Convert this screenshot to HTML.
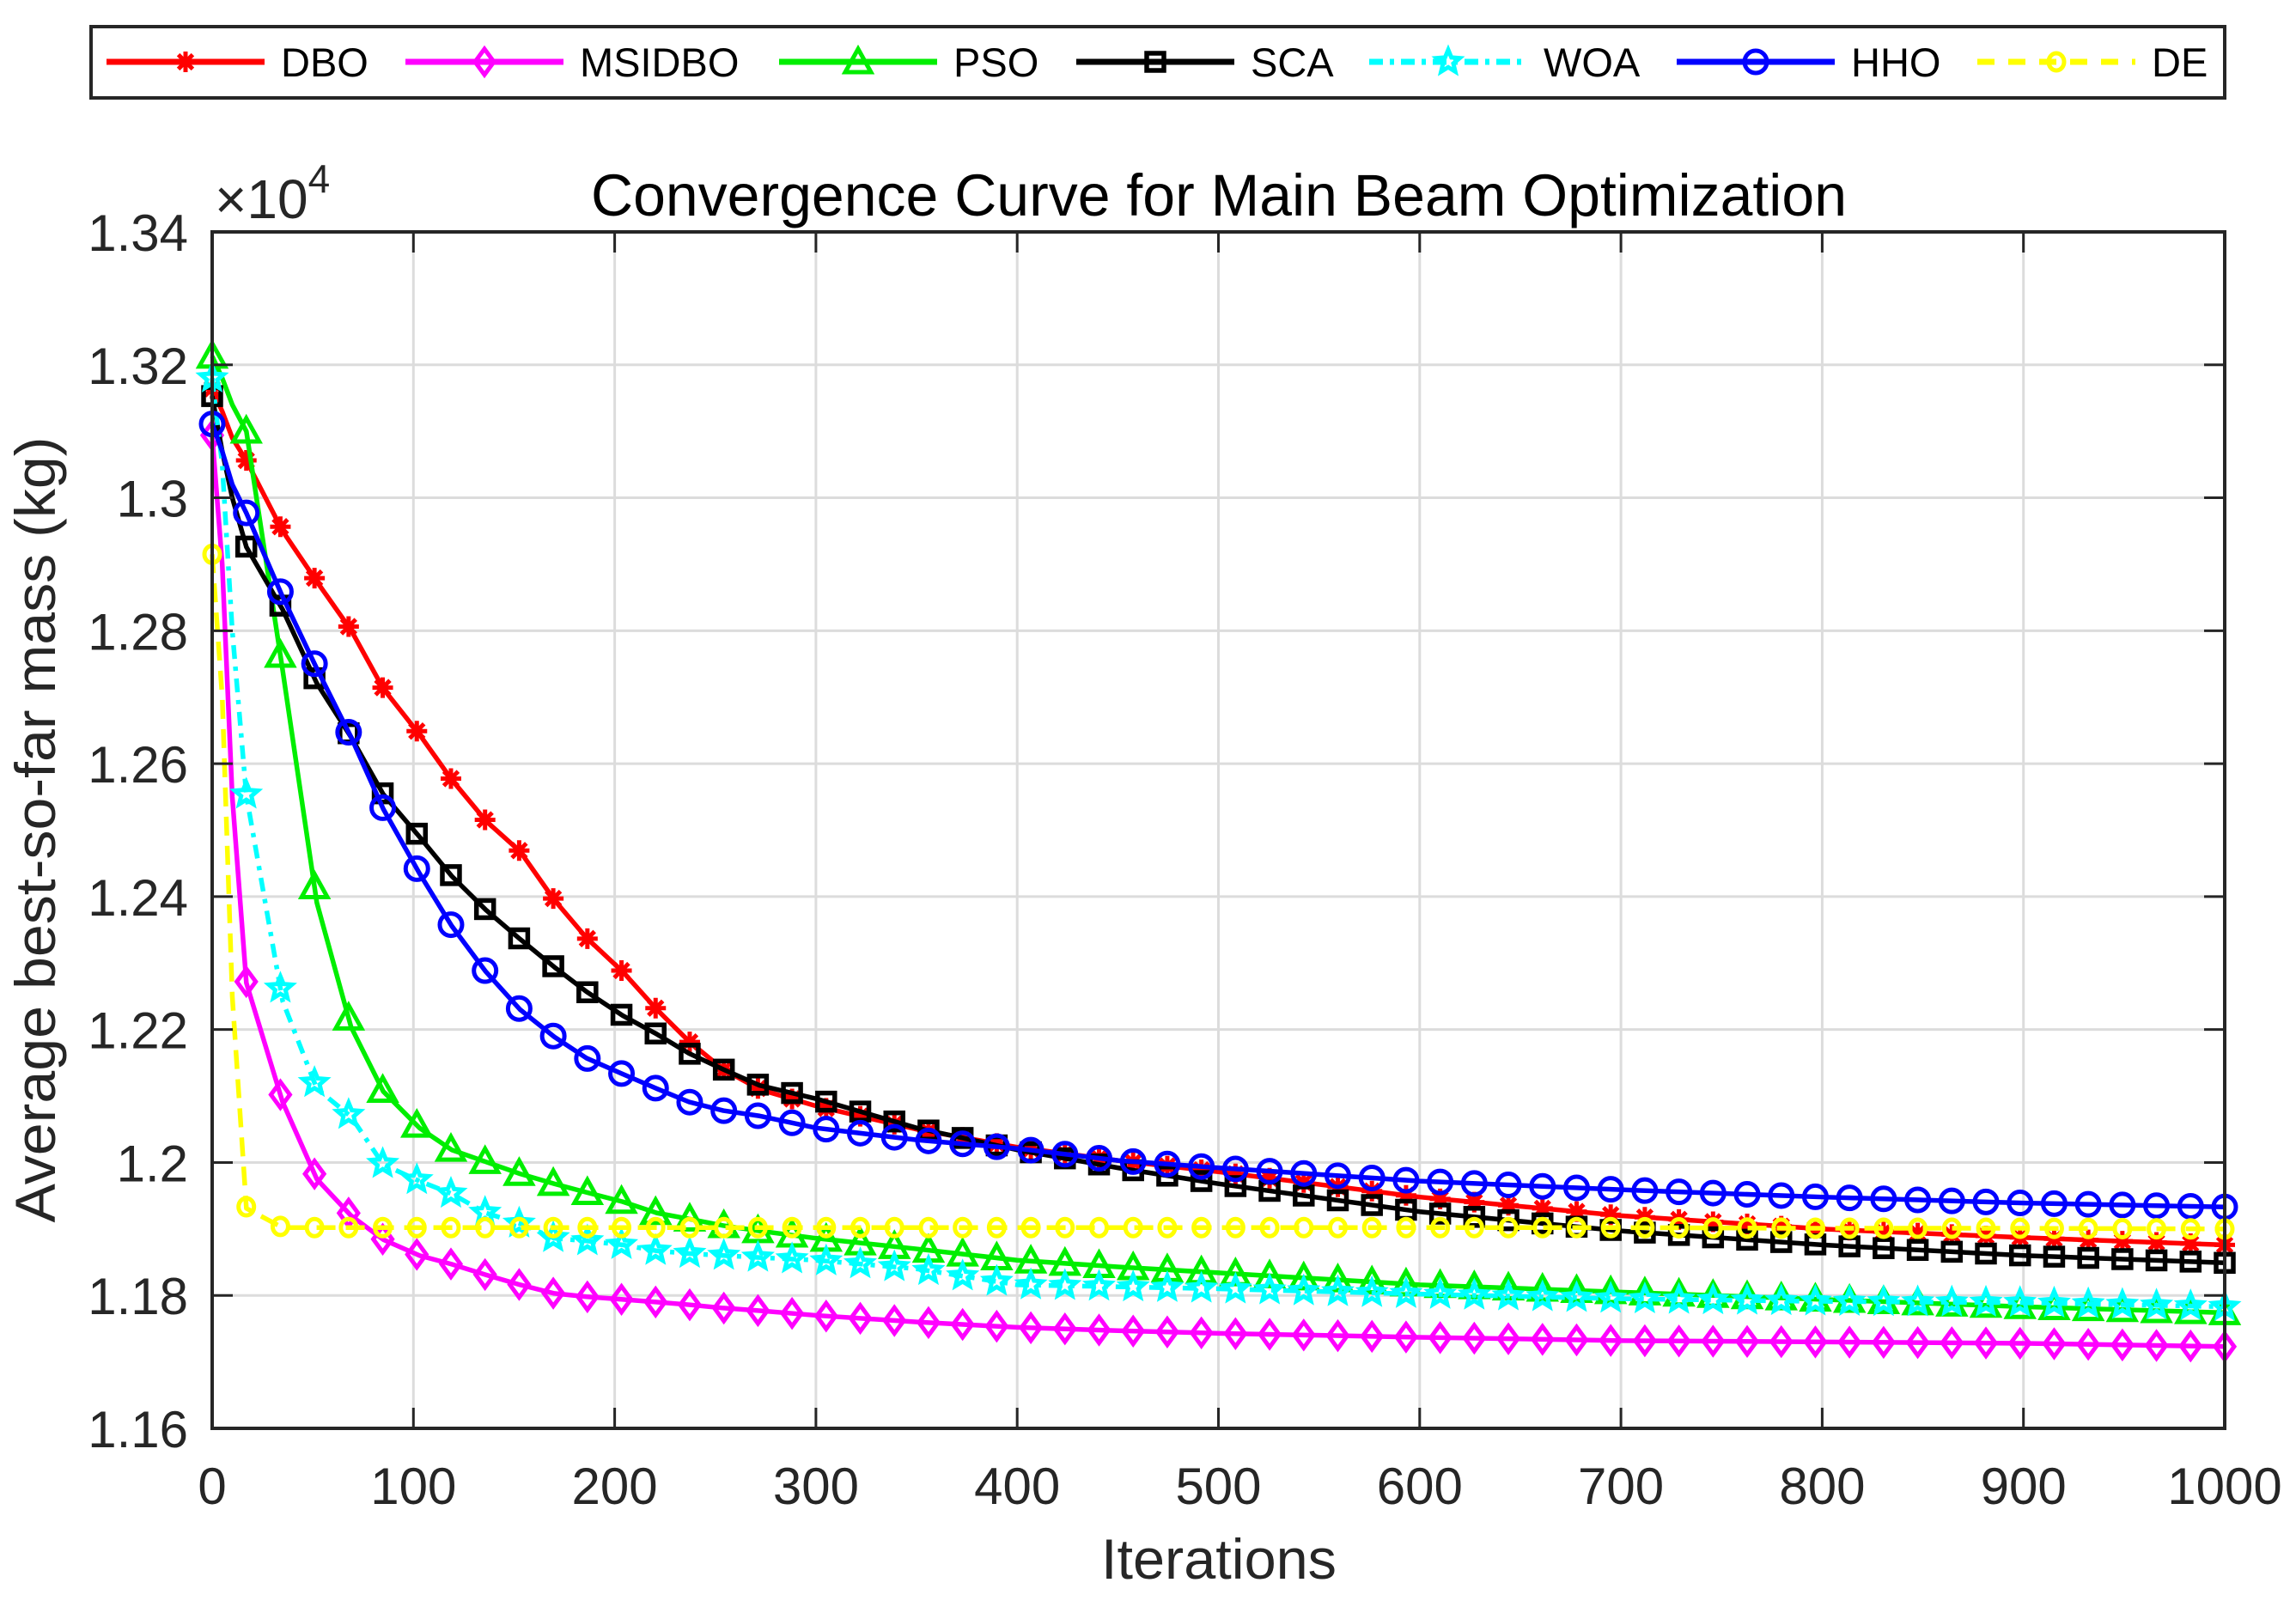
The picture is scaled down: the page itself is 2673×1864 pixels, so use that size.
<!DOCTYPE html>
<html><head><meta charset="utf-8"><style>
html,body{margin:0;padding:0;background:#fff;}
svg{display:block;font-family:"Liberation Sans",Arial,sans-serif;}
</style></head><body>
<svg id="chart" width="2673" height="1864" viewBox="0 0 2673 1864" xmlns="http://www.w3.org/2000/svg">
<rect width="2673" height="1864" fill="#fff"/>
<g id="grid"></g>
<g id="series"></g>
<g id="axes"></g>
<text x="1419" y="251" font-size="69" text-anchor="middle" fill="#000" textLength="1462" lengthAdjust="spacingAndGlyphs">Convergence Curve for Main Beam Optimization</text>
<text x="250" y="254" font-size="64" fill="#262626">×10<tspan font-size="46" dy="-30">4</tspan></text>
<text x="1419" y="1838" font-size="66" text-anchor="middle" fill="#262626" textLength="274" lengthAdjust="spacingAndGlyphs">Iterations</text>
<text transform="translate(64,966) rotate(-90)" font-size="66" text-anchor="middle" fill="#262626" textLength="915" lengthAdjust="spacingAndGlyphs">Average best-so-far mass (kg)</text>
<g id="legend"></g>
</svg>
<script>
const iters = [0,5,10,17,35,52,69,85,103,119,136,153,170,186,204,221,237,254,272,300,350,400,450,500,600,700,800,900,1000];
const dbo = [1.3164,1.313,1.309,1.3056,1.295,1.2874,1.2801,1.2713,1.2644,1.2576,1.2514,1.2468,1.2395,1.2338,1.2287,1.223,1.2182,1.214,1.211,1.2085,1.205,1.2023,1.2003,1.1986,1.1948,1.192,1.190,1.1887,1.1876];
const msidbo = [1.3094,1.29,1.255,1.227,1.2091,1.1975,1.192,1.1884,1.186,1.1847,1.1831,1.1816,1.1803,1.1798,1.1794,1.179,1.1786,1.1781,1.1777,1.177,1.176,1.1752,1.1747,1.1743,1.1737,1.1732,1.173,1.1728,1.1723];
const pso = [1.3213,1.318,1.314,1.31,1.2741,1.2391,1.2204,1.2107,1.2052,1.2019,1.2001,1.1983,1.1968,1.1955,1.1941,1.1924,1.1915,1.1905,1.1897,1.1886,1.187,1.1853,1.1843,1.1834,1.1816,1.1805,1.1794,1.1783,1.1774];
const sca = [1.3153,1.307,1.300,1.2926,1.2832,1.2721,1.264,1.2554,1.249,1.2431,1.238,1.2336,1.2294,1.2257,1.2221,1.2193,1.2164,1.214,1.2116,1.2096,1.2052,1.2019,1.1992,1.1968,1.1926,1.1897,1.1876,1.186,1.1849];
const woa = [1.318,1.305,1.28,1.2552,1.2243,1.2111,1.2069,1.1997,1.1972,1.1953,1.1924,1.1908,1.1886,1.1882,1.1876,1.1867,1.1863,1.186,1.1857,1.1853,1.184,1.1816,1.1813,1.181,1.1802,1.1795,1.1791,1.1789,1.1783];
const hho = [1.3111,1.307,1.302,1.2977,1.2851,1.2743,1.264,1.2532,1.2435,1.2356,1.2287,1.223,1.2189,1.2157,1.2133,1.2111,1.2091,1.2078,1.207,1.2052,1.2034,1.2021,1.2003,1.1992,1.1972,1.1959,1.1948,1.1939,1.1933];
const de = [1.2915,1.27,1.225,1.1931,1.1902,1.1902,1.1902,1.1902,1.1902,1.1902,1.1902,1.1902,1.1902,1.1902,1.1902,1.1902,1.1902,1.1902,1.1902,1.1902,1.1902,1.1902,1.1902,1.1902,1.1902,1.1902,1.1901,1.1901,1.1900];
const xTicks = [0,100,200,300,400,500,600,700,800,900,1000];
const yTicks = [1.16,1.18,1.2,1.22,1.24,1.26,1.28,1.3,1.32,1.34];
const yTickLabels = ["1.16","1.18","1.2","1.22","1.24","1.26","1.28","1.3","1.32","1.34"];
const seriesNames = ["DBO","MSIDBO","PSO","SCA","WOA","HHO","DE"];

const L=247,R=2590,T=270,B=1663;
const xMin=0,xMax=1000,yMin=1.16,yMax=1.34;
const sx=v=>L+(v-xMin)/(xMax-xMin)*(R-L);
const sy=v=>B-(v-yMin)/(yMax-yMin)*(B-T);
const NS='http://www.w3.org/2000/svg';
function mk(tag,attrs,parent){const e=document.createElementNS(NS,tag);for(const k in attrs)e.setAttribute(k,attrs[k]);parent.appendChild(e);return e;}

const grid=document.getElementById('grid'),axes=document.getElementById('axes'),ser=document.getElementById('series'),leg=document.getElementById('legend');
xTicks.forEach(t=>{
  const x=sx(t);
  if(t>xMin&&t<xMax){const g=mk('line',{x1:x,x2:x,y1:T,y2:B,stroke:'#dcdcdc','stroke-width':3},grid);
  
  }
  const tk=mk('path',{d:`M${x},${B}v-24M${x},${T}v24`,stroke:'#262626','stroke-width':3},axes);
  
  
  const lb=mk('text',{x:x,y:1751,'font-size':60,'text-anchor':'middle',fill:'#262626'},axes);lb.textContent=t;
  
  
});
yTicks.forEach((t,i)=>{
  const y=sy(t);
  if(i>0&&i<yTicks.length-1){const g=mk('line',{x1:L,x2:R,y1:y,y2:y,stroke:'#dcdcdc','stroke-width':3},grid);
  
  }
  const tk=mk('path',{d:`M${L},${y}h24M${R},${y}h-24`,stroke:'#262626','stroke-width':3},axes);
  
  
  const lb=mk('text',{x:219,y:y+22,'font-size':60,'text-anchor':'end',fill:'#262626'},axes);lb.textContent=yTickLabels[i];
  
  
});
const frame=mk('rect',{x:L,y:T,width:R-L,height:B-T,fill:'none',stroke:'#262626','stroke-width':4},axes);



function interp(vals,it){for(let i=1;i<iters.length;i++){if(it<=iters[i]){const f=(it-iters[i-1])/(iters[i]-iters[i-1]);return vals[i-1]+f*(vals[i]-vals[i-1]);}}return vals[vals.length-1];}

function marker(type,x,y,color,g,s){
  s=s||1;
  let e;
  const sw=5;
  if(type==='star'){const r=12*s;e=mk('path',{d:`M${x-r},${y}h${2*r}M${x},${y-r}v${2*r}M${x-r*0.7},${y-r*0.7}l${1.4*r},${1.4*r}M${x-r*0.7},${y+r*0.7}l${1.4*r},${-1.4*r}`,stroke:color,'stroke-width':sw,fill:'none'},g);}
  else if(type==='diamond'){const r=15*s,w=11*s;e=mk('path',{d:`M${x},${y-r}L${x+w},${y}L${x},${y+r}L${x-w},${y}Z`,stroke:color,'stroke-width':sw,fill:'none'},g);}
  else if(type==='triangle'){const r=15*s;e=mk('path',{d:`M${x},${y-r}L${x+r},${y+r*0.8}L${x-r},${y+r*0.8}Z`,stroke:color,'stroke-width':sw,fill:'none'},g);}
  else if(type==='square'){const r=10*s;e=mk('rect',{x:x-r,y:y-r,width:2*r,height:2*r,stroke:color,'stroke-width':5.5,fill:'none'},g);}
  else if(type==='pent'){const r=14*s;let d='';for(let k=0;k<10;k++){const a=-Math.PI/2+k*Math.PI/5,rr=k%2?r*0.45:r;d+=(k?'L':'M')+(x+rr*Math.cos(a))+','+(y+rr*Math.sin(a));}e=mk('path',{d:d+'Z',stroke:color,'stroke-width':sw,fill:'none'},g);}
  else if(type==='circle'){e=mk('ellipse',{cx:x,cy:y,rx:13*s,ry:13*s,stroke:color,'stroke-width':sw,fill:'none'},g);}
  else if(type==='smallcircle'){e=mk('ellipse',{cx:x,cy:y,rx:9*s,ry:10*s,stroke:color,'stroke-width':sw,fill:'none'},g);}
  
  
}

const styles=[
 {v:dbo,c:'#ff0000',m:'star',dash:''},
 {v:msidbo,c:'#ff00ff',m:'diamond',dash:''},
 {v:pso,c:'#00ee00',m:'triangle',dash:''},
 {v:sca,c:'#000000',m:'square',dash:''},
 {v:woa,c:'#00ffff',m:'pent',dash:'16 9 5 9'},
 {v:hho,c:'#0000ff',m:'circle',dash:''},
 {v:de,c:'#ffff00',m:'smallcircle',dash:'22 12'}
];
const markerIters=[];for(let k=0;k<60;k++)markerIters.push(k*1000/59);
styles.forEach((s,si)=>{
  const g=mk('g',{},ser);
  
  
  const d=iters.map((it,i)=>(i?'L':'M')+sx(it)+','+sy(s.v[i])).join('');
  const p=mk('path',{d:d,stroke:s.c,'stroke-width':5.5,fill:'none','stroke-linejoin':'round','stroke-dasharray':s.dash},g);
  
  
  markerIters.forEach(it=>marker(s.m,sx(it),sy(interp(s.v,it)),s.c,g));
});

// legend
const lb=mk('rect',{x:106,y:31,width:2484,height:83,fill:'#fff',stroke:'#262626','stroke-width':4},leg);


const legX=[124,472,907,1253,1594,1952,2302];
styles.forEach((s,si)=>{
  const g=mk('g',{},leg);
  
  
  const x0=legX[si],y=72;
  const ln=mk('line',{x1:x0,x2:x0+184,y1:y,y2:y,stroke:s.c,'stroke-width':7,'stroke-dasharray':s.dash?(si===4?'16 8 5 8':'20 16'):''},g);
  
  
  marker(s.m,x0+92,y,s.c,g,1.0);
  const t=mk('text',{x:x0+203,y:y+17,'font-size':47,fill:'#000'},g);t.textContent=seriesNames[si];
  
  
});
</script>
</body></html>
